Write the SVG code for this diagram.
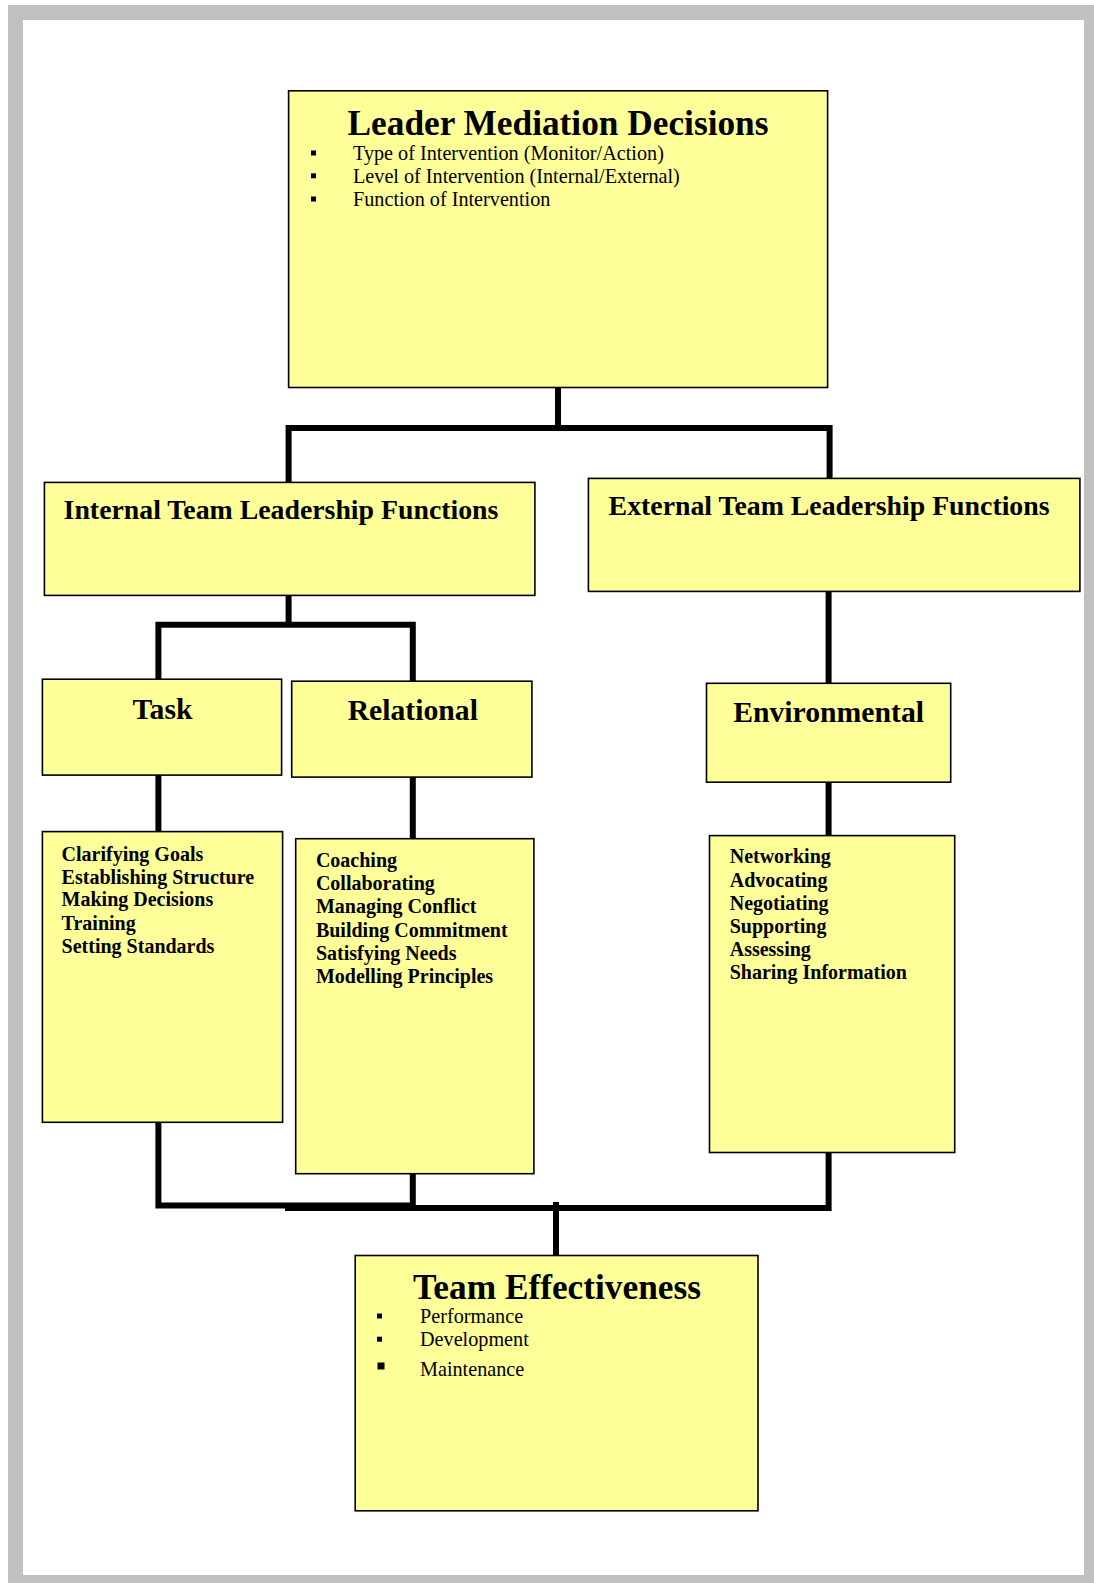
<svg xmlns="http://www.w3.org/2000/svg" width="1094" height="1583" viewBox="0 0 1094 1583">
<style>
.box{fill:#FFFF99;stroke:#000;stroke-width:1.6}
.conn{fill:none;stroke:#000;stroke-width:6;stroke-linejoin:miter;stroke-linecap:butt}
.big{font-family:"Liberation Serif","Times New Roman",serif;font-weight:bold;font-size:35.3px;text-anchor:middle}
.hd{font-family:"Liberation Serif","Times New Roman",serif;font-weight:bold;font-size:27.8px}
.sub{font-family:"Liberation Serif","Times New Roman",serif;font-weight:bold;font-size:29.7px;text-anchor:middle}
.li{font-family:"Liberation Serif","Times New Roman",serif;font-weight:bold;font-size:20px}
.bl{font-family:"Liberation Serif","Times New Roman",serif;font-size:20.2px}
</style>
<rect x="8" y="5" width="1086" height="1578" fill="#C0C0C0"/>
<rect x="23" y="20" width="1061" height="1555" fill="#FFFFFF"/>
<g id="connectors">
<path class="conn" d="M558,388 V428"/>
<path class="conn" d="M288.6,482 V428 H829.6 V478"/>
<path class="conn" d="M288.6,595 V624.7"/>
<path class="conn" d="M158.4,679 V624.7 H412.8 V681"/>
<path class="conn" d="M828.6,591 V683"/>
<path class="conn" d="M158.4,775 V831.6"/>
<path class="conn" d="M412.8,777 V838.7"/>
<path class="conn" d="M828.6,782 V835.6"/>
<path class="conn" d="M158.4,1122 V1205.5 H412.8 V1173.7"/>
<path class="conn" d="M285,1208 H828.6 V1152.5"/>
<path class="conn" d="M556,1202 V1255.5"/>
</g>
<g id="leader">
<rect class="box" x="288.6" y="90.8" width="539" height="296.7"/>
<text class="big" x="558" y="135">Leader Mediation Decisions</text>
<rect x="311" y="150.5" width="5" height="5"/>
<rect x="311" y="173.3" width="5" height="5"/>
<rect x="311" y="196.5" width="5" height="5"/>
<text class="bl" x="353" y="159.5">Type of Intervention (Monitor/Action)</text>
<text class="bl" x="353" y="182.5">Level of Intervention (Internal/External)</text>
<text class="bl" x="353" y="205.7">Function of Intervention</text>
</g>
<g id="internal">
<rect class="box" x="44.4" y="482.4" width="490.5" height="113"/>
<text class="hd" x="63.6" y="518.7">Internal Team Leadership Functions</text>
</g>
<g id="external">
<rect class="box" x="588.4" y="478.4" width="491.5" height="113"/>
<text class="hd" x="608.6" y="514.7">External Team Leadership Functions</text>
</g>
<g id="task">
<rect class="box" x="42.4" y="679.2" width="239.2" height="95.9"/>
<text class="sub" x="162.5" y="718.6">Task</text>
</g>
<g id="relational">
<rect class="box" x="291.7" y="681.2" width="240.2" height="95.9"/>
<text class="sub" x="412.8" y="719.6">Relational</text>
</g>
<g id="environmental">
<rect class="box" x="706.5" y="683.3" width="244.2" height="98.9"/>
<text class="sub" x="828.6" y="721.6">Environmental</text>
</g>
<g id="task-list">
<rect class="box" x="42.4" y="831.6" width="240.2" height="290.7"/>
<text class="li" x="61.6" y="860.9">Clarifying Goals</text>
<text class="li" x="61.6" y="884">Establishing Structure</text>
<text class="li" x="61.6" y="906.3">Making Decisions</text>
<text class="li" x="61.6" y="929.5">Training</text>
<text class="li" x="61.6" y="952.7">Setting Standards</text>
</g>
<g id="relational-list">
<rect class="box" x="295.7" y="838.7" width="238.2" height="335"/>
<text class="li" x="315.9" y="867">Coaching</text>
<text class="li" x="315.9" y="890">Collaborating</text>
<text class="li" x="315.9" y="913.4">Managing Conflict</text>
<text class="li" x="315.9" y="936.6">Building Commitment</text>
<text class="li" x="315.9" y="959.8">Satisfying Needs</text>
<text class="li" x="315.9" y="983">Modelling Principles</text>
</g>
<g id="environmental-list">
<rect class="box" x="709.5" y="835.6" width="245.2" height="316.9"/>
<text class="li" x="729.7" y="862.9">Networking</text>
<text class="li" x="729.7" y="887.1">Advocating</text>
<text class="li" x="729.7" y="910.3">Negotiating</text>
<text class="li" x="729.7" y="932.5">Supporting</text>
<text class="li" x="729.7" y="955.7">Assessing</text>
<text class="li" x="729.7" y="979">Sharing Information</text>
</g>
<g id="team-effectiveness">
<rect class="box" x="355.2" y="1255.5" width="402.8" height="255.3"/>
<text class="big" x="557" y="1299">Team Effectiveness</text>
<rect x="377" y="1313.5" width="5" height="5"/>
<rect x="377" y="1336.7" width="5" height="5"/>
<rect x="377.5" y="1362.5" width="7" height="7"/>
<text class="bl" x="420" y="1323.1">Performance</text>
<text class="bl" x="420" y="1346.3">Development</text>
<text class="bl" x="420" y="1375.6">Maintenance</text>
</g>
</svg>
